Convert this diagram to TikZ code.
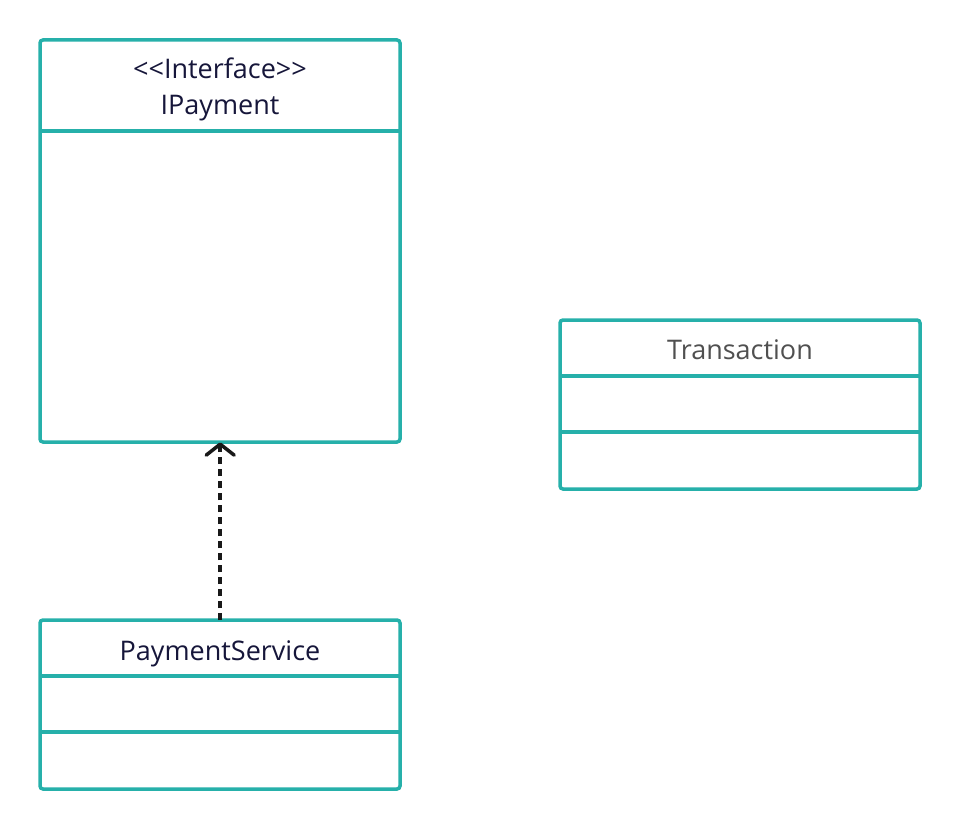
\documentclass[tikz,border=0pt]{standalone}
\usepackage{fontspec}
\setmainfont[Ligatures=NoCommon]{Open Sans}
\usetikzlibrary{arrows.meta}
\definecolor{teal1}{HTML}{26B0AA}
\definecolor{navy1}{HTML}{16163A}
\definecolor{gray1}{HTML}{505050}
\tikzset{
  classbox/.style={draw=teal1, line width=3.5pt, rounded corners=3pt, fill=white},
  divider/.style={draw=teal1, line width=3.5pt},
  lbl/.style={font=\fontsize{27}{30}\selectfont, text=navy1, inner sep=0pt, anchor=base},
  realize/.style={draw=black!90, line width=3.5pt, dash pattern=on 7pt off 5pt,
    -{Straight Barb[length=11pt,width=28pt,line width=3.5pt,line cap=round,line join=round]}}
}
\begin{document}
\begin{tikzpicture}[x=1pt,y=-1pt]
\useasboundingbox (0,0) rectangle (961,829);
% IPayment
\draw[classbox] (40,40) rectangle (400,442);
\node[inner sep=0pt, minimum width=360pt, minimum height=402pt, anchor=north west] (ipay) at (40,40) {};
\draw[divider] (40,131) -- (400,131);
\node[lbl] (stereo) at (220,78.5) {<\kern0pt<Interface>\kern0pt>};
\node[lbl] (ipayname) at (220,115) {IPayment};
% Transaction
\draw[classbox] (560,320) rectangle (920,489);
\node[inner sep=0pt, minimum width=360pt, minimum height=169pt, anchor=north west] (trans) at (560,320) {};
\draw[divider] (560,376) -- (920,376);
\draw[divider] (560,432) -- (920,432);
\node[lbl, text=gray1] (transname) at (740,359.5) {Transaction};
% PaymentService
\draw[classbox] (40,620) rectangle (400,789);
\node[inner sep=0pt, minimum width=360pt, minimum height=169pt, anchor=north west] (psvc) at (40,620) {};
\draw[divider] (40,676) -- (400,676);
\draw[divider] (40,732) -- (400,732);
\node[lbl] (psvcname) at (220,660) {PaymentService};
% realization
\draw[realize] (psvc.north) -- (ipay.south);
\end{tikzpicture}
\end{document}
